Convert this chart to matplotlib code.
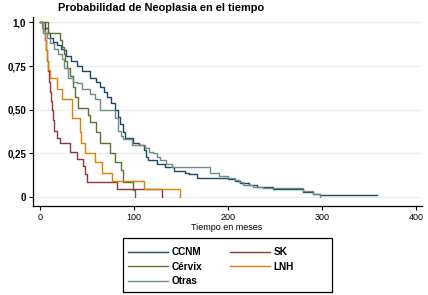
import matplotlib
matplotlib.use("Agg")
import matplotlib.pyplot as plt
from matplotlib.patches import Rectangle

plt.rcParams['font.family'] = ['Liberation Sans', 'DejaVu Sans']

# Kaplan-Meier style step curves (months, proportion)
ccnm_t = [0, 5, 8, 11, 14, 18, 22, 25, 28, 33, 39, 45, 53, 60, 64, 68, 71, 75, 80, 83,
          85, 88, 90, 99, 105, 110, 113, 115, 124, 133, 142, 154, 158, 167, 200, 207,
          213, 222, 231, 248, 280, 290, 298, 358]
ccnm_s = [1.0, 0.97, 0.94, 0.91, 0.89, 0.87, 0.85, 0.84, 0.81, 0.78, 0.75, 0.72, 0.68,
          0.66, 0.63, 0.60, 0.57, 0.54, 0.50, 0.46, 0.42, 0.37, 0.34, 0.31, 0.30, 0.27,
          0.23, 0.21, 0.19, 0.17, 0.15, 0.14, 0.13, 0.11, 0.105, 0.09, 0.08, 0.07, 0.06,
          0.045, 0.03, 0.02, 0.012, 0.012]

sk_t = [0, 3, 5, 6, 7, 9, 10, 11, 12, 13, 14, 15, 18, 21, 32, 39, 46, 48, 50, 82, 130]
sk_s = [1.0, 0.96, 0.90, 0.84, 0.78, 0.72, 0.66, 0.60, 0.55, 0.50, 0.44, 0.38, 0.34,
        0.31, 0.26, 0.22, 0.18, 0.13, 0.086, 0.045, 0.0]

cervix_t = [0, 9, 21, 23, 25, 27, 29, 32, 35, 37, 40, 51, 53, 60, 64, 74, 80, 86, 88, 99, 101]
cervix_s = [1.0, 0.94, 0.90, 0.86, 0.82, 0.78, 0.74, 0.69, 0.63, 0.57, 0.51, 0.47, 0.43,
            0.37, 0.31, 0.25, 0.20, 0.155, 0.086, 0.04, 0.0]

lnh_t = [0, 3, 5, 6, 7, 9, 11, 18, 23, 34, 43, 44, 48, 58, 66, 76, 110, 149]
lnh_s = [1.0, 0.95, 0.90, 0.84, 0.78, 0.73, 0.68, 0.62, 0.56, 0.45, 0.37, 0.31, 0.25,
         0.20, 0.14, 0.09, 0.045, 0.0]

otras_t = [0, 2, 3, 7, 11, 15, 19, 23, 26, 30, 35, 39, 45, 53, 58, 64, 80, 83, 86, 88,
           98, 112, 116, 120, 124, 128, 134, 140, 181, 190, 200, 207, 212, 216, 226,
           237, 279, 290, 298]
otras_s = [1.0, 0.97, 0.94, 0.91, 0.88, 0.85, 0.82, 0.79, 0.74, 0.68, 0.66, 0.65, 0.62,
           0.59, 0.56, 0.50, 0.45, 0.38, 0.35, 0.33, 0.30, 0.28, 0.26, 0.25, 0.23, 0.21,
           0.19, 0.17, 0.14, 0.12, 0.11, 0.10, 0.085, 0.07, 0.06, 0.05, 0.035, 0.02, 0.0]

yticks = [0, 0.25, 0.5, 0.75, 1.0]
ylabels = ['0', '0,25', '0,50', '0,75', '1,0']
xticks = [0, 100, 200, 300, 400]

fig = plt.figure(figsize=(4.28, 2.95), dpi=100)
ax = fig.add_axes([0.077, 0.302, 0.909, 0.64])

lines = {}
lines['CCNM'], = ax.step(ccnm_t, ccnm_s, where='post', color='#1a476f', lw=1.0)
lines['SK'], = ax.step(sk_t, sk_s, where='post', color='#90353b', lw=1.0)
lines['Cérvix'], = ax.step(cervix_t, cervix_s, where='post', color='#55752f', lw=1.0)
lines['LNH'], = ax.step(lnh_t, lnh_s, where='post', color='#e37e00', lw=1.0)
lines['Otras'], = ax.step(otras_t, otras_s, where='post', color='#6e8e84', lw=1.0)

ax.set_xlim(-7.5, 406)
ax.set_ylim(-0.051, 1.03)
ax.set_yticks(yticks)
ax.set_yticklabels(ylabels, fontsize=7, fontweight='bold')
ax.set_xticks(xticks)
ax.set_xticklabels([str(v) for v in xticks], fontsize=6.5)
ax.tick_params(axis='both', length=3, width=0.8, pad=2)
ax.yaxis.grid(True, color='#e6eef0', lw=0.8)
ax.set_axisbelow(True)
for s in ['top', 'right']:
    ax.spines[s].set_visible(False)
for s in ['left', 'bottom']:
    ax.spines[s].set_linewidth(0.9)

fig.text(58 / 428, 1 - 8 / 295, 'Probabilidad de Neoplasia en el tiempo',
         fontsize=7.9, fontweight='bold', ha='left', va='center')
fig.text(227 / 428, 1 - 228 / 295, 'Tiempo en meses', fontsize=6.5,
         ha='center', va='center')

# legend box drawn by hand, entries placed inside it
fig.patches.append(Rectangle((123 / 428, 1 - 292 / 295), 209 / 428, 54 / 295,
                             transform=fig.transFigure, fill=False,
                             edgecolor='black', lw=0.9))
order = ['CCNM', 'Cérvix', 'Otras', 'SK', 'LNH']
leg = fig.legend([lines[k] for k in order], order, ncol=2, loc='upper left',
                 bbox_to_anchor=(128 / 428, 1 - 247 / 295), frameon=False,
                 prop={'size': 7.2, 'weight': 'bold'}, handlelength=4.0,
                 labelspacing=0.45, borderpad=0, borderaxespad=0,
                 handletextpad=0.4, columnspacing=2.7)

fig.savefig('out.png', dpi=100)
